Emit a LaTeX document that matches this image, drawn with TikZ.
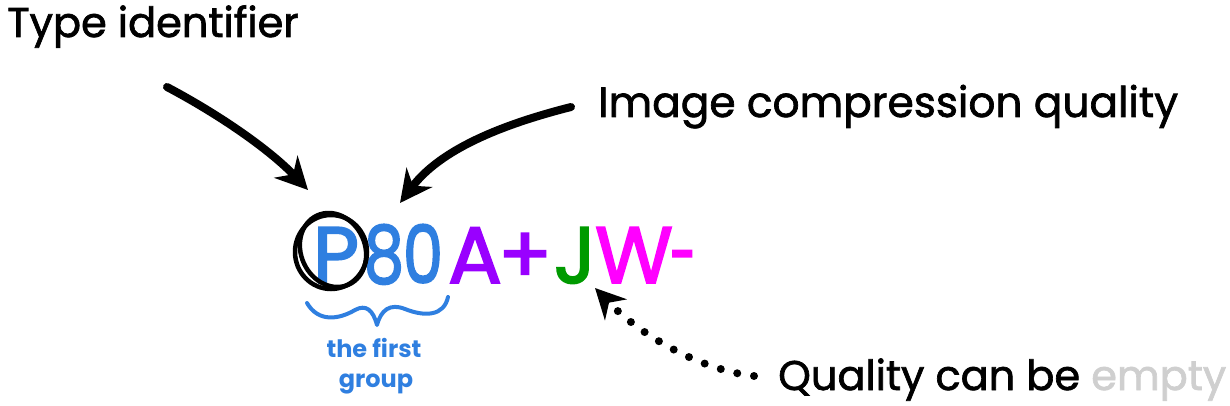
\documentclass[tikz,border=0pt]{standalone}
\usepackage{graphicx}
\usepackage{fontspec}
\setmainfont{Poppins}
\newfontfamily\lblfont{Poppins}[FakeBold=1.6]
\newfontfamily\codefont{Poppins}[FakeBold=2.2]
\usetikzlibrary{arrows.meta}
\definecolor{cblue}{HTML}{2F7FE0}
\definecolor{cpurple}{HTML}{9900FF}
\definecolor{cgreen}{HTML}{009A00}
\definecolor{cmagenta}{HTML}{FF00FF}
\definecolor{cgray}{HTML}{CFCFCF}
\begin{document}
\begin{tikzpicture}[x=1pt,y=-1pt,
  lbl/.style={anchor=base west, inner sep=0pt, font=\lblfont\fontsize{41.5}{48}\selectfont},
  code/.style={anchor=base, inner sep=0pt, font=\codefont\fontsize{80}{90}\selectfont},
  small/.style={anchor=base, inner sep=0pt, text=cblue, font=\fontsize{24}{30}\selectfont\bfseries},
  bigarrow/.style={line width=8pt, line cap=round, -{Stealth[length=32pt,width=32pt]}},
  dotarrow/.style={line width=8pt, line cap=round, dash pattern=on 0pt off 17pt, -{Stealth[length=30pt,width=30pt]}},
  ring/.style={line width=4.5pt},
  bracestyle/.style={cblue, line width=4pt, line cap=round, line join=round}]
\useasboundingbox (0,0) rectangle (1230,406);
% labels
\node[lbl] (type) at (7,37) {Type identifier};
\node[lbl, font=\lblfont\fontsize{42.3}{48}\selectfont] (img) at (598,117) {Image compression quality};
\node[lbl] (qual) at (778,390) {Quality can be \textcolor{cgray}{empty}};
% code characters
\node[code, text=cblue] (cP) at (336,283) {P};
\node[code, text=cblue] (c8) at (384,283) {\scalebox{0.8}[1]{8}};
\node[code, text=cblue] (c0) at (423,283) {\scalebox{0.8}[1]{0}};
\node[code, text=cpurple] (cA) at (475,283) {A};
\node[code, text=cpurple] (cplus) at (525,283) {+};
\node[code, text=cgreen] (cJ) at (575,283) {J};
\node[code, text=cmagenta] (cW) at (634,283) {W};
\node[code, text=cmagenta] (cminus) at (683,283) {\scalebox{0.6}[1]{-}};
% group label
\node[small] (g1) at (374,357) {the first};
\node[small] (g2) at (376,387) {group};
% circle around P
\draw[ring] (331,252) ellipse [x radius=36pt, y radius=37pt];
\draw[ring] (333,250) ellipse [x radius=32pt, y radius=38pt, rotate=25];
% brace
\draw[bracestyle] (307,303) .. controls (318,322) and (338,320) .. (355,310)
  .. controls (366,304) and (373,310) .. (377,325)
  .. controls (381,310) and (390,303) .. (405,309)
  .. controls (425,317) and (444,316) .. (448,297);
% arrows
\coordinate (a1s) at (167,87);
\coordinate (a1e) at (308,190);
\coordinate (a2s) at (571,107);
\coordinate (a2e) at (400,203);
\coordinate (a3s) at (754,376);
\coordinate (a3e) at (595,288);
\draw[bigarrow] (a1s) .. controls (220,115) and (270,150) .. (a1e);
\draw[bigarrow] (a2s) .. controls (500,125) and (440,150) .. (a2e);
\draw[dotarrow] (a3s) .. controls (700,370) and (640,335) .. (a3e);
\end{tikzpicture}
\end{document}
